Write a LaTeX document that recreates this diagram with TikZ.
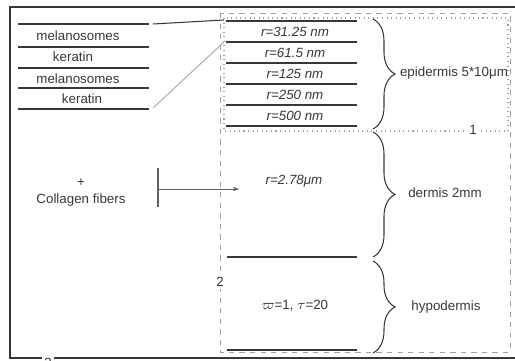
\documentclass[tikz,border=0pt]{standalone}
\usepackage{fontspec}
\setmainfont{Liberation Sans}
\usepackage{tikz}
\usetikzlibrary{arrows.meta,decorations.pathreplacing}
\definecolor{inkgray}{RGB}{55,55,55}
\definecolor{boxgray}{RGB}{160,160,160}
\definecolor{linkgray}{RGB}{175,175,175}
\tikzset{
  layer/.style={inkgray,line width=1.1pt},
  lbl/.style={inner sep=1pt,font=\fontsize{7.6}{9}\selectfont},
  rlbl/.style={lbl,font=\fontsize{7.6}{9}\selectfont\itshape},
  tag/.style={lbl,fill=white,inner sep=1.5pt},
  skinbrace/.style={inkgray,line width=0.6pt,decorate,decoration={brace,amplitude=0.44cm}}
}

\begin{document}
\begin{tikzpicture}[x=0.02cm,y=-0.02cm,text=inkgray]
        \useasboundingbox (0,0) rectangle (515,361);
        % frames 3, 2, 1
        \draw[inkgray,line width=0.8pt](518,7)--(10,7)--(10,358)--(518,358);
        \draw[boxgray,dashed,line width=0.5pt](220,13) rectangle (510,352);
        \draw[boxgray,dotted,line width=0.6pt](224,18) rectangle (508,131);
        \node[tag] (n1) at (473,130) {1};
        \node[tag] (n2) at (220,282) {2};
        \node[tag] (n3) at (48,363) {3};
        % inset with the sub-layers
        \foreach \y in {24,47,68,88,109}
          \draw[layer](18,\y)--(149,\y);
        \node[lbl] (mel1) at (78,36) {melanosomes};
        \node[lbl] (ker1) at (73,57) {keratin};
        \node[lbl] (mel2) at (78,79) {melanosomes};
        \node[lbl] (ker2) at (82,99) {keratin};
        \coordinate (insT) at (153,24);
        \coordinate (insB) at (153,108);
        \coordinate (epiT) at (224,20);
        \coordinate (epiS) at (224,42);
        \draw[inkgray,line width=0.6pt](insT)--(epiT);
        \draw[linkgray,line width=0.6pt](insB)--(epiS);
        % epidermis
        \foreach \y in {21,42,63,84,105,126}
          \draw[layer](226,\y)--(357,\y);
        \foreach \r/\y/\k in {31.25/32/1,61.5/53/2,125/74/3,250/95/4,500/116/5}
          \node[rlbl] (ep\k) at (295,\y) {r=\r\ nm};
        % dermis and hypodermis
        \draw[layer](227,257)--(357,257);
        \draw[layer](227,350)--(357,350);
        \node[rlbl] (derm) at (294,181) {r=2.78μm};
        \node[lbl] (hypo) at (295,306) {$\varpi$=1, $\tau$=20};
        % collagen fibers
        \node[lbl] (plus) at (81,183) {+};
        \node[lbl] (coll) at (81,200) {Collagen fibers};
        \coordinate (barT) at (158,168);
        \coordinate (barB) at (158,207);
        \coordinate (barM) at (158,189);
        \coordinate (tip) at (239,189);
        \draw[inkgray!80,line width=0.8pt](barT)--(barB);
        \draw[inkgray!80,line width=0.4pt,-{Stealth[length=3.5pt,width=2.5pt]}](barM)--(tip);
        % braces
        \draw[skinbrace](373,19)--(373,129);
        \draw[skinbrace](373,132)--(373,257);
        \draw[skinbrace](373,261)--(373,353);
        \node[lbl] (epi) at (454,73) {epidermis 5*10μm};
        \node[lbl] (dlbl) at (445,193) {dermis 2mm};
        \node[lbl] (hlbl) at (446,307) {hypodermis};
      \end{tikzpicture}
\end{document}
